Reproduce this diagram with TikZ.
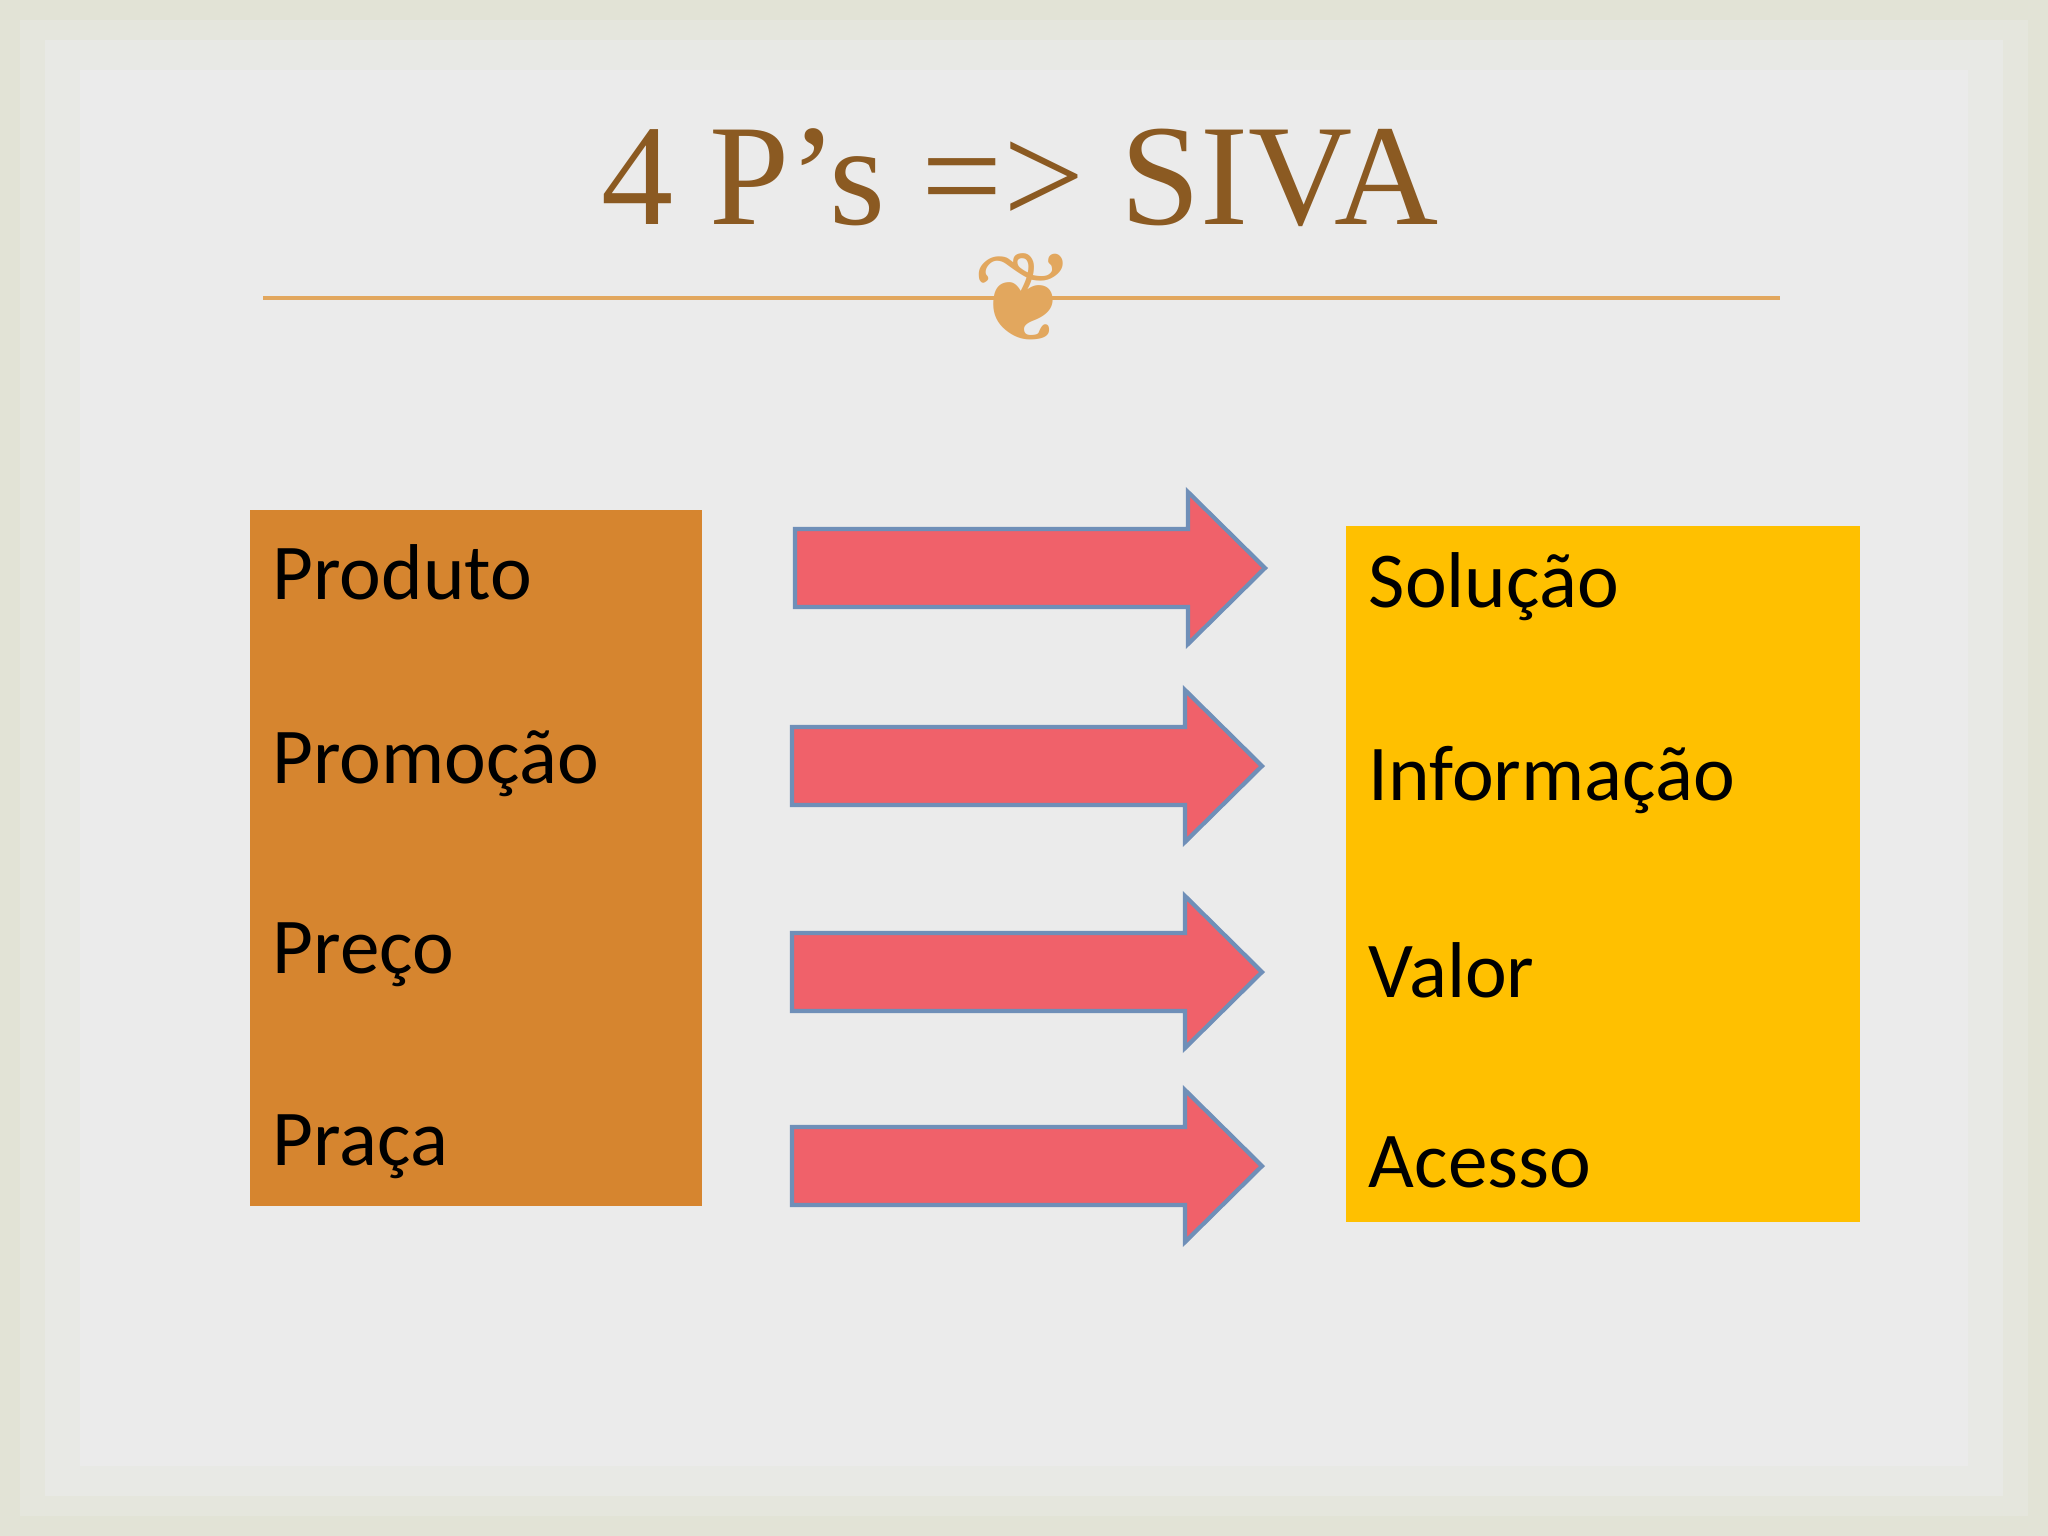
\documentclass[tikz,border=0pt]{standalone}
\usepackage{fontspec}
\setmainfont{Carlito}
\newfontfamily\titlefont{Liberation Serif}
\newfontfamily\orn{DejaVu Sans}
\definecolor{bgout}{HTML}{E2E3D6}
\definecolor{bgin}{HTML}{EBEBEB}
\definecolor{orng}{HTML}{D6852F}
\definecolor{yell}{HTML}{FFC000}
\definecolor{arr}{HTML}{F0616A}
\definecolor{arrline}{HTML}{6F8FB8}
\definecolor{ttl}{HTML}{8B5A22}
\definecolor{rule}{HTML}{E2A75E}
\begin{document}
\begin{tikzpicture}[x=0.01cm,y=-0.01cm,
  lbl/.style={anchor=west,font=\fontsize{22.5}{26}\selectfont,inner sep=0},
  arrowshape/.style={fill=arr,draw=arrline,line width=1.2pt}]
\useasboundingbox (0,0) rectangle (2048,1536);
\fill[bgout] (0,0) rectangle (2048,1536);
\fill[bgin!35!bgout] (20,20) rectangle (2028,1516);
\fill[bgin!70!bgout] (45,40) rectangle (2003,1496);
\fill[bgin] (80,70) rectangle (1968,1466);
% title
\node[font=\titlefont\fontsize{41}{48}\selectfont,text=ttl] (title) at (1020,178) {4 P’s => SIVA};
\coordinate (rl) at (263,298); \coordinate (rr) at (1780,298);
\draw[rule,line width=1.2pt] (rl) -- (rr);
\node[text=rule,font=\orn\fontsize{36}{40}\selectfont,inner sep=0pt] (orn) at (1025,298) {❦};
% boxes
\fill[orng] (250,510) rectangle (702,1206);
\fill[yell] (1346,526) rectangle (1860,1222);
\node[lbl] (p1) at (272,572) {Produto};
\node[lbl] (p2) at (272,764) {Promoção};
\node[lbl] (p3) at (272,955) {Preço};
\node[lbl] (p4) at (272,1147) {Praça};
\node[lbl] (s1) at (1368,587) {Solução};
\node[lbl] (s2) at (1368,780) {Informação};
\node[lbl] (s3) at (1368,970) {Valor};
\node[lbl] (s4) at (1368,1162) {Acesso};
% arrows
\foreach \xa/\xb/\xt/\yc in {795/1188/1265/568, 792/1185/1262/766, 792/1185/1262/972, 792/1185/1262/1166}{
  \draw[arrowshape] (\xa,\yc-39) -- (\xb,\yc-39) -- (\xb,\yc-76) -- (\xt,\yc) -- (\xb,\yc+76) -- (\xb,\yc+39) -- (\xa,\yc+39) -- cycle;
}
\end{tikzpicture}
\end{document}
